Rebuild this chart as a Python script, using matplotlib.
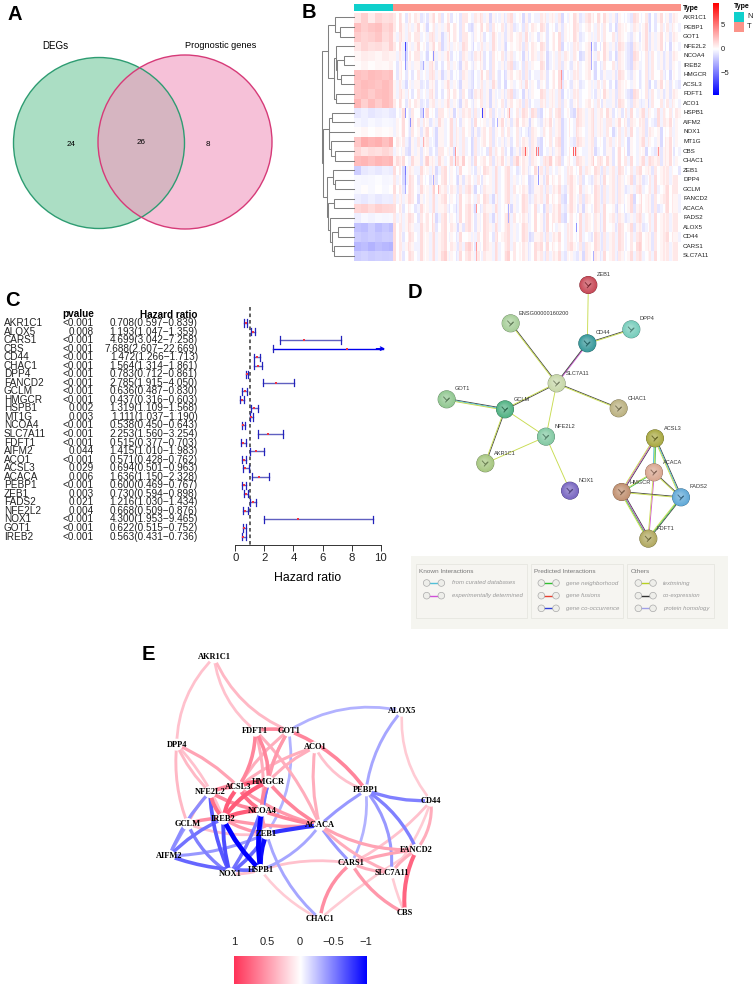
import numpy as np
import matplotlib
matplotlib.use("Agg")
import matplotlib.pyplot as plt
from matplotlib.patches import Circle, Rectangle, PathPatch
from matplotlib.path import Path
from matplotlib.colors import LinearSegmentedColormap, to_rgb

plt.rcParams['font.family'] = ['Liberation Sans', 'DejaVu Sans']
W, H = 754, 991
fig = plt.figure(figsize=(W / 100, H / 100), dpi=100, facecolor='white')


def ax_px(x0, y0, x1, y1, **kw):
    return fig.add_axes([x0 / W, 1 - y1 / H, (x1 - x0) / W, (y1 - y0) / H], **kw)


# ---------- Panel A data ----------
venn_labels = ['DEGs', 'Prognostic genes']
venn_counts = [24, 26, 8]

# ---------- Panel B data ----------
heat_genes = ['AKR1C1', 'PEBP1', 'GOT1', 'NFE2L2', 'NCOA4', 'IREB2', 'HMGCR', 'ACSL3', 'FDFT1', 'ACO1',
              'HSPB1', 'AIFM2', 'NOX1', 'MT1G', 'CBS', 'CHAC1', 'ZEB1', 'DPP4', 'GCLM', 'FANCD2',
              'ACACA', 'FADS2', 'ALOX5', 'CD44', 'CARS1', 'SLC7A11']
heat_normal = [
    [1.0, 1.8, 0.8, 1.6, 1.2, 1.4], [2.4, 1.8, 2.2, 2.4, 1.6, 2.0], [2.0, 1.6, 1.8, 2.2, 1.4, 1.8],
    [1.0, 1.6, 1.2, 1.4, 1.0, 1.8], [0.4, 0.8, 0.6, 0.4, 0.8, 0.5], [0.2, 0.5, 0.2, 0.4, 0.3, 0.6],
    [2.4, 2.2, 2.6, 2.4, 2.2, 2.4], [2.2, 2.6, 2.4, 2.2, 2.6, 2.2], [2.2, 2.4, 2.0, 2.4, 2.6, 2.2],
    [2.8, 1.8, 2.6, 2.0, 2.6, 2.2], [-0.8, -0.5, -0.9, -0.7, -0.5, -0.8], [-0.3, -0.5, -0.2, -0.4, -0.2, -0.3],
    [0.2, 0.4, 0.1, 0.3, 0.2, 0.3], [2.2, 3.2, 2.8, 3.0, 2.4, 3.0], [1.6, 1.0, 1.4, 1.2, 1.6, 1.2],
    [2.6, 2.8, 2.4, 2.8, 2.6, 2.8], [-1.8, -0.8, -0.6, -0.8, -0.5, -0.7], [-0.2, -0.3, -0.2, -0.1, -0.3, -0.2],
    [-0.2, 0.2, -0.2, 0.1, -0.2, 0.1], [-0.6, -0.8, -0.5, -0.8, -0.6, -0.7], [1.6, 1.8, 1.4, 1.8, 1.6, 1.5],
    [-0.6, -0.2, -0.4, -0.2, -0.3, -0.2], [-2.2, -2.4, -1.8, -2.4, -2.0, -2.4], [-1.8, -2.0, -1.8, -2.0, -1.8, -1.9],
    [-2.6, -2.4, -2.8, -2.4, -2.6, -2.8], [-1.8, -1.6, -1.9, -1.7, -1.8, -1.7]]
heat_tumor = [
    [1,0,1,-1,0,1,0,-1,0,1,1,0,-1,0,1,0,-1,-1,0,1,0,-1,1,0,1,2,1,0,-1,0,1,0,-1,1,0,1],
    [1,1,0,1,-1,0,1,1,0,-1,0,1,0,1,0,-1,0,1,1,0,-1,0,1,1,0,1,0,-1,0,1,0,1,-1,0,1,0],
    [0,1,1,0,1,0,-1,1,0,1,0,-1,1,0,0,1,1,0,-1,0,1,0,1,0,-1,1,0,1,0,0,-1,1,0,1,0,1],
    [1,-1,0,1,0,1,-1,0,1,1,-1,0,1,0,-1,1,0,1,1,0,1,-1,0,1,0,-1,1,0,1,-1,0,1,0,1,-1,0],
    [0,-1,1,0,-1,0,1,-1,0,0,1,-1,0,1,0,0,-1,1,0,-1,0,1,0,-1,0,1,1,-1,0,-1,1,0,1,-1,0,1],
    [-1,0,0,-1,1,-1,0,0,-1,1,0,-1,0,0,1,-1,0,0,1,-1,0,0,-1,1,0,-1,0,1,0,-1,0,0,1,-1,0,0],
    [-1,0,-1,0,1,0,-1,-1,0,0,-1,1,0,-1,0,1,0,-1,0,0,1,-1,0,1,0,-1,-1,0,1,0,-1,0,1,0,-1,0],
    [0,-1,0,-1,0,-1,1,0,-1,0,-1,0,1,-1,-1,0,1,0,-1,0,1,0,-1,0,-1,1,0,-1,0,1,-1,0,-1,1,0,-1],
    [0,1,-1,0,1,-1,0,1,0,-1,1,0,-1,0,1,-1,-1,0,1,1,0,-1,0,1,-1,0,1,0,0,-1,1,0,1,-1,0,1],
    [1,0,1,-1,0,0,1,0,-1,1,0,0,-1,1,0,1,0,-1,0,1,0,0,-1,1,0,1,-1,0,1,0,0,-1,1,0,1,0],
    [-1,1,0,-1,1,0,1,-1,0,1,0,1,0,-1,1,0,2,1,-1,0,1,0,-1,1,0,1,1,0,-1,1,0,1,0,1,0,1],
    [0,1,0,1,-1,1,0,1,-1,0,1,0,-1,1,0,1,1,-1,0,1,0,-1,1,1,0,1,0,1,1,0,1,0,-1,1,1,0],
    [0,1,0,0,1,-1,0,1,0,0,-1,1,0,0,1,0,-1,0,1,0,0,-1,1,0,0,1,0,-1,0,1,0,0,1,-1,0,0],
    [1,0,-1,1,0,-1,0,1,0,-1,0,1,0,-1,0,0,1,0,-1,0,1,-1,0,1,0,0,-1,1,0,-1,0,1,0,-1,1,0],
    [0,-1,-1,0,-1,0,1,-1,0,-1,0,-1,1,0,-1,-1,2,0,-1,-1,0,-1,1,-1,0,-1,-1,0,1,-1,0,-1,-1,0,1,-1],
    [2,1,1,0,2,1,0,1,2,0,1,1,0,1,0,2,1,0,1,2,1,0,1,1,0,2,1,0,1,1,0,1,2,0,1,0],
    [1,-1,0,1,0,-1,1,0,1,-1,0,1,1,0,1,-1,0,1,1,0,-1,1,0,1,1,1,0,1,1,0,1,1,0,1,0,-1],
    [0,-1,1,0,-1,0,1,0,-1,0,1,-1,1,0,1,0,-1,-1,0,1,0,1,1,0,-1,0,1,1,0,1,0,-1,1,1,0,1],
    [1,0,1,1,0,2,0,1,0,1,-1,0,1,0,1,1,0,-1,1,0,1,0,1,1,0,1,0,1,0,-1,1,0,1,0,1,1],
    [0,1,1,-1,0,1,1,0,1,0,1,1,-1,0,1,0,1,0,1,1,0,-1,1,0,1,1,0,1,0,1,-1,1,0,1,1,0],
    [1,0,-1,1,0,1,0,-1,1,1,-1,0,1,0,-1,0,1,1,-1,0,1,0,1,-1,0,1,1,0,-1,1,0,1,0,-1,1,0],
    [0,1,1,0,1,-1,1,0,1,1,0,1,-1,0,1,1,0,1,0,1,1,-1,0,1,1,0,1,1,0,-1,1,0,1,1,0,1],
    [1,1,0,1,1,0,1,1,-1,1,0,1,1,0,1,0,1,1,0,1,-1,1,0,1,1,0,1,0,1,1,0,-1,1,1,0,1],
    [1,0,1,1,0,1,1,0,1,-1,1,1,0,1,1,0,1,-1,1,0,1,1,0,1,-1,1,0,1,1,0,1,1,0,1,1,0],
    [1,1,0,1,0,1,1,1,0,2,0,1,1,0,1,1,0,1,2,1,0,1,1,0,1,1,0,1,1,0,2,1,0,1,0,1],
    [1,0,1,1,0,1,2,0,1,1,1,0,1,0,2,1,0,1,1,0,1,0,-1,-1,1,0,1,1,0,1,1,0,1,1,0,1]]
# sample-to-sample stripes, estimated per dendrogram cluster (3 px wide)
heat_stripes_top = [1,-1,2,0,-2,1,-1,1,2,-1,0,-2,1,2,-1,1,-2,0,2,-1,1,0,-2,2,1,-1,-2,1,0,2,-1,1,-2,2,0,-1,
                    1,-2,1,2,-1,0,1,-2,2,-1,1,0,-1,2,1,-2,0,1,-1,2,-2,1,0,-1,2,1,-2,-1,1,2,0,-2,1,-1,2,0,
                    -1,1,-2,2,1,0,-1,-2,2,1,-1,0,2,-2,1,-1,0,2,-1,1,-2,1,0,-1]
heat_stripes_mid = [-1,1,0,2,-1,-2,2,0,1,-2,1,2,-1,0,-2,2,1,-1,0,2,-2,1,-1,2,0,1,-2,2,-1,0,1,-1,2,-2,1,0,
                    2,-1,1,-2,0,2,-1,1,0,-2,2,1,-1,-2,1,0,2,-1,1,2,-2,0,1,-1,-2,2,1,0,-1,1,2,-2,0,1,-1,2,
                    1,-2,0,2,-1,1,-2,2,0,-1,1,2,-2,1,0,-1,2,-2,1,0,2,-1,1,0]
heat_stripes_low = [2,-1,1,-2,0,2,1,-1,-2,2,0,1,-1,2,-2,0,1,2,-1,1,0,-2,2,-1,1,2,0,-2,1,-1,2,1,0,-2,2,-1,
                    0,1,2,-2,1,-1,0,2,1,-2,-1,2,0,1,-2,2,-1,1,0,2,-1,-2,1,2,0,-1,2,-2,1,0,-1,2,1,-2,2,-1,
                    0,1,-2,2,1,-1,0,2,-2,1,2,-1,0,1,-2,2,-1,0,1,2,-1,1,1,-1]
heat_streaks = [(3,12,-7),(4,12,-4),(5,12,-4),(4,40,-4),(5,30,-3),(10,12,-4),(10,30,-4),(10,89,-7),(11,17,-4),
                (11,104,-3),(14,132,6),(14,143,5),(14,145,5),(14,180,6),(14,182,6),(14,265,4),(14,62,4),(16,12,-5),
                (17,12,-4),(18,12,-3),(16,145,-3),(17,145,-4),(17,40,-3),(18,45,3),(13,30,3),(15,62,3),(10,116,3),
                (3,198,-4),(4,198,-3),(5,198,-3),(20,83,4),(24,83,4),(25,83,3),(20,115,-3),(21,115,-3),(22,183,-4),
                (25,200,-3),(6,168,4),(7,168,3)]
heat_tree = (68, (85, (107, 0, (122, 1, 2)),
                  (103, (110, 3, (112, (132, 4, 5), (125, 6, 7))), (108, 8, 9))),
             (72, (88, (97, 10, 11), (90, 12, (95, 13, (105, 14, 15)))),
              (83, (100, 16, (107, 17, 18)),
               (85, (103, 19, 20), (92, 21, (97, (115, 22, 23), (103, 24, 25)))))))

# ---------- Panel C data ----------
cox_genes = ['AKR1C1','ALOX5','CARS1','CBS','CD44','CHAC1','DPP4','FANCD2','GCLM','HMGCR','HSPB1','MT1G','NCOA4',
             'SLC7A11','FDFT1','AIFM2','ACO1','ACSL3','ACACA','PEBP1','ZEB1','FADS2','NFE2L2','NOX1','GOT1','IREB2']
cox_p = ['<0.001','0.008','<0.001','<0.001','<0.001','<0.001','<0.001','<0.001','<0.001','<0.001','0.002','0.003',
         '<0.001','<0.001','<0.001','0.044','<0.001','0.029','0.006','<0.001','0.003','0.021','0.004','<0.001',
         '<0.001','<0.001']
cox_hr = [0.708,1.193,4.699,7.688,1.472,1.564,0.783,2.785,0.636,0.437,1.319,1.111,0.538,2.253,0.515,1.415,0.571,
          0.694,1.636,0.600,0.730,1.216,0.668,4.300,0.622,0.563]
cox_lo = [0.597,1.047,3.042,2.607,1.266,1.314,0.712,1.915,0.487,0.316,1.109,1.037,0.450,1.560,0.377,1.010,0.428,
          0.501,1.150,0.469,0.594,1.030,0.509,1.953,0.515,0.431]
cox_hi = [0.839,1.359,7.258,22.669,1.713,1.861,0.861,4.050,0.830,0.603,1.568,1.190,0.643,3.254,0.703,1.983,0.762,
          0.963,2.328,0.767,0.898,1.434,0.876,9.465,0.752,0.736]

# ---------- Panel D data ----------
ppi_names = ['ZEB1','ENSG00000160200','CD44','DPP4','SLC7A11','GOT1','GCLM','CHAC1','NFE2L2','AKR1C1','NOX1',
             'ACSL3','ACACA','HMGCR','FADS2','FDFT1']
ppi_x = [565,332,562,694,470,140,315,656,438,256,510,765,762,665,843,745]
ppi_y = [45,160,220,178,340,388,418,415,500,580,662,505,607,666,682,806]
ppi_col = ['#c84a58','#a8cf9a','#3a9a9c','#78cdbc','#c8d8aa','#92c892','#52b284','#bcb282','#84caa4','#a8c882',
           '#7a68c2','#aaaa44','#daa892','#c29272','#62aad8','#b2aa62']
ppi_lab_x = [590,356,588,720,497,165,340,682,463,282,536,791,788,690,869,770]
ppi_lab_y = [14,131,189,147,310,357,388,384,470,550,633,474,577,636,651,775]
ppi_edges = [('ZEB1','CD44','y'),('ENSG00000160200','SLC7A11','ky'),('CD44','DPP4','ky'),('CD44','SLC7A11','mk'),
             ('SLC7A11','CHAC1','ky'),('SLC7A11','GCLM','ky'),('SLC7A11','NFE2L2','y'),('GOT1','GCLM','kcy'),
             ('GCLM','NFE2L2','y'),('GCLM','AKR1C1','ky'),('AKR1C1','NFE2L2','y'),('NFE2L2','NOX1','y'),
             ('ACSL3','ACACA','gyc'),('ACSL3','HMGCR','kmy'),('ACSL3','FADS2','kcy'),('ACACA','HMGCR','gy'),
             ('ACACA','FADS2','ky'),('ACACA','FDFT1','my'),('HMGCR','FADS2','ky'),('HMGCR','FDFT1','kmgy'),
             ('FADS2','FDFT1','kgy')]
ppi_known = ['from curated databases', 'experimentally determined']
ppi_pred = ['gene neighborhood', 'gene fusions', 'gene co-occurrence']
ppi_other = ['textmining', 'co-expression', 'protein homology']

# ---------- Panel E data ----------
net_names = ['AKR1C1','ALOX5','FDFT1','GOT1','ACO1','DPP4','HMGCR','ACSL3','NFE2L2','PEBP1','CD44','NCOA4','IREB2',
             'GCLM','ACACA','ZEB1','AIFM2','FANCD2','CARS1','HSPB1','NOX1','SLC7A11','CHAC1','CBS']
net_x = [222,786,346,446,525,110,385,295,210,678,873,366,250,143,539,380,88,830,634,362,270,754,540,795]
net_y = [52,212,272,272,322,314,425,441,456,451,482,512,536,552,556,581,648,629,670,690,701,698,837,820]
net_edges = [
    ('AKR1C1','DPP4',.3,.2),('AKR1C1','FDFT1',.3,.2),('AKR1C1','GOT1',.35,.2),('DPP4','NFE2L2',.35,.1),
    ('DPP4','GCLM',.35,.12),('DPP4','ACSL3',.45,-.1),('DPP4','IREB2',.3,-.1),('FDFT1','GOT1',.6,-.1),
    ('FDFT1','ACSL3',.6,-.15),('FDFT1','HMGCR',.6,-.15),('FDFT1','NCOA4',.4,-.1),('FDFT1','ACACA',.4,-.1),
    ('GOT1','PEBP1',.6,-.15),('GOT1','HMGCR',.5,.1),('GOT1','ACSL3',.4,.1),('GOT1','NCOA4',.4,.12),
    ('ACO1','PEBP1',.3,.2),('ACO1','ACACA',.4,.1),('ACO1','HMGCR',.4,.1),('ACO1','ACSL3',.4,.1),
    ('HMGCR','ACSL3',.8,.15),('HMGCR','IREB2',.8,.15),('HMGCR','NFE2L2',.5,.12),('HMGCR','ACACA',.6,.1),
    ('HMGCR','NCOA4',.6,.15),('ACSL3','IREB2',.8,.15),('ACSL3','NCOA4',.7,.15),('ACSL3','NFE2L2',.6,.1),
    ('ACSL3','ACACA',.5,.1),('NFE2L2','IREB2',.7,.15),('NFE2L2','GCLM',.4,.1),('NFE2L2','NCOA4',.6,.1),
    ('IREB2','NCOA4',.8,-.12),('IREB2','GCLM',.55,.1),('IREB2','ZEB1',.5,.12),('IREB2','ACACA',.5,.08),
    ('GCLM','ZEB1',.3,.12),('NCOA4','ZEB1',.5,.1),('NCOA4','ACACA',.6,.05),
    ('GOT1','ALOX5',-.3,-.2),('ALOX5','PEBP1',-.35,.15),('PEBP1','CD44',-.5,.1),('PEBP1','FANCD2',-.5,-.15),
    ('PEBP1','SLC7A11',-.4,-.2),('PEBP1','CARS1',-.3,-.15),('PEBP1','ACACA',-.4,.05),('GOT1','ZEB1',-.3,-.2),
    ('ACACA','ZEB1',-.8,.03),('ACACA','HSPB1',-.35,-.15),('ACACA','CARS1',-.4,.05),('ZEB1','HSPB1',-.95,.12),
    ('ZEB1','CHAC1',-.35,.15),('ZEB1','NOX1',-.6,-.1),('NCOA4','HSPB1',-1,.1),('IREB2','HSPB1',-1,.1),
    ('IREB2','NOX1',-.7,.08),('NFE2L2','NOX1',-.65,.1),('HMGCR','NOX1',-.55,-.1),('HMGCR','HSPB1',-.5,.08),
    ('GCLM','AIFM2',-.4,.05),('GCLM','NOX1',-.5,.15),('IREB2','AIFM2',-.55,.1),('NFE2L2','AIFM2',-.45,.1),
    ('AIFM2','ZEB1',-.4,.1),('AIFM2','HSPB1',-.6,.1),
    ('ALOX5','CD44',.25,.2),('CD44','FANCD2',.4,-.2),('CD44','CARS1',.3,-.1),('CD44','SLC7A11',.25,-.1),
    ('ACACA','FANCD2',.45,.15),('ACACA','SLC7A11',.4,.1),('CARS1','FANCD2',.45,-.05),('CARS1','SLC7A11',.4,.1),
    ('CARS1','CHAC1',.55,.2),('CARS1','CBS',.5,.15),('CARS1','HSPB1',.3,.12),('FANCD2','CBS',.75,.15),
    ('FANCD2','SLC7A11',.4,.1),('FANCD2','CHAC1',.25,.05),('SLC7A11','CBS',.25,.05),('HSPB1','CHAC1',.25,.12),
    ('NOX1','HSPB1',.3,.1)]
net_ticks = [1, 0.5, 0, -0.5, -1]

# ---------- page overlay for text ----------
pg = ax_px(0, 0, W, H)
pg.set_xlim(0, W); pg.set_ylim(H, 0); pg.axis('off'); pg.set_zorder(20); pg.patch.set_alpha(0)
for let, x, y in [('A', 8, 15), ('B', 302, 12), ('C', 5, 301), ('D', 408, 293), ('E', 142, 654)]:
    pg.text(x, y, let, fontsize=14.5, fontweight='bold', va='center')

# ---------- A: Venn ----------
axa = ax_px(0, 30, 295, 250)
axa.set_xlim(0, 295); axa.set_ylim(250, 30); axa.axis('off')
axa.add_patch(Circle((99, 143), 85.5, fc='#8fd3b0', alpha=.75, ec='none'))
axa.add_patch(Circle((185, 142), 87, fc='#f29cc0', alpha=.62, ec='none'))
axa.add_patch(Circle((99, 143), 85.5, fc='none', ec='#2e9c72', lw=1))
axa.add_patch(Circle((185, 142), 87, fc='none', ec='#d63a78', lw=1))
pg.text(55, 46, venn_labels[0], fontsize=7, ha='center', va='center')
pg.text(221, 45, venn_labels[1], fontsize=6.6, ha='center', va='center')
for x, y, v in zip([71, 141, 208], [144, 142, 144], venn_counts):
    pg.text(x, y, str(v), fontsize=5.8, ha='center', va='center')

# ---------- B: heatmap ----------
heat_cmap = LinearSegmentedColormap.from_list('bwr2', ['#0000ff', '#ffffff', '#ff0000'])
row_cluster = [0] * 10 + [1] * 6 + [2] * 10
stripes = np.array([heat_stripes_top, heat_stripes_mid, heat_stripes_low], dtype=float)
tumor = np.repeat(np.array(heat_tumor, dtype=float) * 0.45, 8, axis=1)
tumor += np.repeat(stripes[row_cluster] * 0.45, 3, axis=1)
M = np.hstack([np.repeat(np.array(heat_normal), 7, axis=1)[:, :39], tumor])
for r, c, v in heat_streaks:
    M[r, 39 + c] = v
axh = ax_px(354, 12.7, 681, 260.7)
axh.imshow(M, cmap=heat_cmap, vmin=-9.6, vmax=9.7, aspect='auto', interpolation='nearest')
axh.axis('off')
axt = ax_px(354, 4, 681, 11.4)
axt.set_xlim(0, 327); axt.set_ylim(0, 1); axt.axis('off')
axt.add_patch(Rectangle((0, 0), 39, 1, fc='#0fd0cc', ec='none'))
axt.add_patch(Rectangle((39, 0), 288, 1, fc='#fb9389', ec='none'))
rh = 248 / 26
for i, g in enumerate(heat_genes):
    pg.text(683, 12.7 + rh * (i + .5), g, fontsize=4.5, va='center', color='#222222')
pg.text(683, 8, 'Type', fontsize=5, fontweight='bold', va='center')

axd = ax_px(322, 12.7, 354, 260.7)
axd.set_xlim(68, 162); axd.set_ylim(26, 0); axd.axis('off')


def draw_tree(node):
    if isinstance(node, int):
        return 162, node + .5
    h, a, b = node
    xa, ya = draw_tree(a)
    xb, yb = draw_tree(b)
    axd.plot([xa, h, h, xb], [ya, ya, yb, yb], color='#808080', lw=.75, solid_joinstyle='miter', clip_on=False)
    return h, (ya + yb) / 2


draw_tree(heat_tree)

axc = ax_px(712.7, 3.3, 718.7, 95)
axc.imshow(np.linspace(9.7, -9.6, 200)[:, None], cmap=heat_cmap, vmin=-9.6, vmax=9.7, aspect='auto',
           extent=[0, 1, -9.6, 9.7])
axc.axis('off')
for v, y in zip(['5', '0', '\u22125'], [25.7, 49.3, 73.3]):
    pg.text(721, y, v, fontsize=5.5, va='center', color='#222222')
pg.text(734, 6, 'Type', fontsize=5, fontweight='bold', va='center')
pg.add_patch(Rectangle((734, 12), 10, 10, fc='#0fd0cc', ec='none'))
pg.add_patch(Rectangle((734, 22), 10, 10, fc='#fb9389', ec='none'))
pg.text(747, 17, 'N', fontsize=5.5, va='center', color='#222222')
pg.text(747, 27, 'T', fontsize=5.5, va='center', color='#222222')

# ---------- C: forest ----------
axf = ax_px(235.3, 300, 380.7, 545)
axf.set_xlim(0, 10)
dy = 8.54
axf.set_ylim((545 - 323) / dy, (300 - 323) / dy)
axf.patch.set_alpha(0)
for s in ['top', 'left', 'right']:
    axf.spines[s].set_visible(False)
axf.spines['bottom'].set_linewidth(.7); axf.spines['bottom'].set_color('#333333')
axf.set_yticks([])
axf.set_xticks([0, 2, 4, 6, 8, 10])
axf.tick_params(axis='x', labelsize=8.2, length=4, width=.7, pad=2, color='#333333', labelcolor='#222222')
axf.set_xlabel('Hazard ratio', fontsize=8.8, labelpad=6)
axf.plot([1, 1], [(307 - 323) / dy, (545 - 323) / dy], color='#555555', lw=1.3, ls=(0, (2, 1.6)), zorder=1)
for i, (g, p, hr, lo, hi) in enumerate(zip(cox_genes, cox_p, cox_hr, cox_lo, cox_hi)):
    y = 323 + dy * i
    pg.text(4, y, g, fontsize=7.2, va='center', color='#222222')
    pg.text(94, y, p, fontsize=7.2, va='center', ha='right', color='#222222')
    pg.text(198, y, f'{hr:.3f}({lo:.3f}\u2212{hi:.3f})', fontsize=7.2, va='center', ha='right', color='#222222')
    top = min(hi, 10.15)
    col = '#0000ee' if hi > 10 else '#6060c0'
    axf.plot([lo, top], [i, i], color=col, lw=1, clip_on=False, zorder=2)
    axf.plot([lo, lo], [i - .42, i + .42], color='#2222bb', lw=.9, zorder=3)
    if hi > 10:
        axf.annotate('', xy=(10.3, i), xytext=(9.7, i), annotation_clip=False,
                     arrowprops=dict(arrowstyle='->', color='#0000ee', lw=.9, mutation_scale=6, shrinkA=0, shrinkB=0))
    else:
        axf.plot([hi, hi], [i - .42, i + .42], color='#2222bb', lw=.9, zorder=3)
    axf.plot([hr], [i], 's', color='#ee3344', ms=1.6, mew=0, zorder=4)
pg.text(78, 314, 'pvalue', fontsize=7.2, fontweight='bold', ha='center', va='center')
pg.text(198, 314.5, 'Hazard ratio', fontsize=7.2, fontweight='bold', ha='right', va='center')

# ---------- D: STRING ----------
axp = ax_px(400, 270, 754, 640)
axp.set_xlim(0, 1062); axp.set_ylim(1110, 0); axp.axis('off')
line_cols = {'y': '#c8dc50', 'k': '#444444', 'm': '#d050d8', 'c': '#50c0d8', 'g': '#40c060'}
ppi_pos = {n: (x, y) for n, x, y in zip(ppi_names, ppi_x, ppi_y)}
for a, b, kinds in ppi_edges:
    p, q = np.array(ppi_pos[a], float), np.array(ppi_pos[b], float)
    n = np.array([-(q - p)[1], (q - p)[0]]); n /= np.hypot(*n)
    for j, k in enumerate(kinds):
        o = (j - (len(kinds) - 1) / 2) * 2.4
        axp.plot([p[0] + n[0] * o, q[0] + n[0] * o], [p[1] + n[1] * o, q[1] + n[1] * o],
                 color=line_cols[k], lw=.65, zorder=1)


def sphere(ax, x, y, r, col, z=3, steps=12):
    c = np.array(to_rgb(col))
    ax.add_patch(Circle((x, y), r, fc=c * .62, ec='none', zorder=z))
    for k in range(steps):
        f = k / steps
        rr = r * (.96 - .75 * f)
        ax.add_patch(Circle((x - r * .12 * f, y - r * .18 * f), rr, fc=c + (1 - c) * f * .3, ec='none', zorder=z))


for n, lx, ly, col in zip(ppi_names, ppi_lab_x, ppi_lab_y, ppi_col):
    x, y = ppi_pos[n]
    sphere(axp, x, y, 27, col)
    axp.plot([x - 9, x, x + 8, x - 3], [y - 7, y + 3, y - 4, y + 8], color=np.array(to_rgb(col)) * .65, lw=.7, zorder=4)
    axp.text(lx, ly, n, fontsize=4.1, va='center', color='#333333', zorder=6)

axp.add_patch(Rectangle((33, 857), 950, 220, fc='#f5f5f0', ec='none', zorder=0))
for x0, x1, title in [(47, 380, 'Known Interactions'), (392, 670, 'Predicted Interactions'), (682, 943, 'Others')]:
    axp.add_patch(Rectangle((x0, 883), x1 - x0, 162, fc='#f6f5f1', ec='#e6e6e0', lw=.6, zorder=1))
    axp.text(x0 + 9, 904, title, fontsize=4.6, color='#777777', va='center')


def ppi_legend(x0, names, cols, xt):
    for i, (t, c) in enumerate(zip(names, cols)):
        y = 939 + 38 * i
        axp.plot([x0, x0 + 44], [y, y], color=c, lw=1, zorder=2)
        for xx in (x0, x0 + 44):
            axp.add_patch(Circle((xx, y), 10, fc='#eeeeea', ec='#aaaaaa', lw=.5, zorder=3))
        axp.text(xt, y, t, fontsize=4.3, style='italic', color='#999999', va='center')


ppi_legend(80, ppi_known, ['#50c0d8', '#d050d8'], 155)
ppi_legend(424, ppi_pred, ['#30c030', '#e84030', '#3040d8'], 498)
ppi_legend(715, ppi_other, ['#b8d020', '#333333', '#a0a0e8'], 789)

# ---------- E: network ----------
axn = ax_px(140, 640, 480, 990)
axn.set_xlim(0, 1020); axn.set_ylim(1050, 0); axn.axis('off')
net_cmap = LinearSegmentedColormap.from_list('net', ['#0000ff', '#ffffff', '#ff3358'])
net_pos = {n: (x, y) for n, x, y in zip(net_names, net_x, net_y)}
for a, b, r, bend in sorted(net_edges, key=lambda e: abs(e[2])):
    p, q = np.array(net_pos[a], float), np.array(net_pos[b], float)
    d = q - p
    ctrl = (p + q) / 2 + bend * np.array([-d[1], d[0]]) * 1.0
    axn.add_patch(PathPatch(Path([p, ctrl, q], [Path.MOVETO, Path.CURVE3, Path.CURVE3]), fc='none',
                            ec=net_cmap((r + 1) / 2), lw=1.4 + 2 * abs(r), capstyle='round', zorder=1 + abs(r)))
for n in net_names:
    x, y = net_pos[n]
    axn.add_patch(Circle((x, y), 18, fc='white', ec='none', zorder=4))
    axn.text(x, y, n, fontsize=6, fontweight='bold', family='Liberation Serif', ha='center', va='center', zorder=5)

axb = ax_px(234, 955.7, 367, 984)
axb.imshow(np.linspace(1, -1, 256)[None, :], cmap=net_cmap, vmin=-1, vmax=1, aspect='auto')
axb.axis('off')
for v in net_ticks:
    lab = f'{v:g}'.replace('-', '\u2212')
    pg.text(300 - 66 * v, 941.7, lab, fontsize=8, ha='center', va='center', color='#222222')

fig.savefig('out.png', dpi=100)
